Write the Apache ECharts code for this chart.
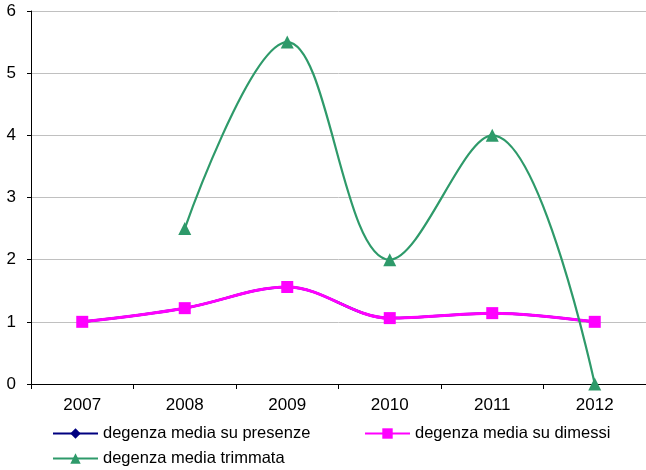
<!DOCTYPE html>
<html><head><meta charset="utf-8">
<script src="https://cdn.jsdelivr.net/npm/echarts@6/dist/echarts.min.js"></script>
<style>html,body{margin:0;padding:0;background:#fff}#c{width:646px;height:470px}</style>
</head><body><div id="c"></div>
<script>
const categories = ['2007','2008','2009','2010','2011','2012'];
const presenze = [1.0, 1.22, 1.56, 1.06, 1.14, 1.0];
const dimessi = [1.0, 1.22, 1.56, 1.06, 1.14, 1.0];
const trimmata = [null, 2.5, 5.5, 2.0, 4.0, 0];
const names = ['degenza media su presenze','degenza media su dimessi','degenza media trimmata'];

const chart = echarts.init(document.getElementById('c'));
const font = 'Liberation Sans, Arial, sans-serif';
const legendBase = {itemWidth: 45, itemHeight: 13, itemGap: 4, padding: 0, textStyle: {fontFamily: font, fontSize: 16.5, color: '#000'}};
chart.setOption({
  animation: false,
  grid: {left: 31, top: 11, width: 619, height: 373, containLabel: false},
  legend: [
    Object.assign({data: [names[0]], left: 52, top: 425}, legendBase),
    Object.assign({data: [names[1]], left: 364, top: 425}, legendBase),
    Object.assign({data: [names[2]], left: 52, top: 450}, legendBase)
  ],
  xAxis: {
    type: 'category', data: categories, boundaryGap: true,
    axisLine: {lineStyle: {color: '#000', width: 1}},
    axisTick: {show: true, length: 5, lineStyle: {color: '#000'}},
    axisLabel: {fontFamily: font, fontSize: 17, color: '#000', margin: 13}
  },
  yAxis: {
    type: 'value', min: 0, max: 6, interval: 1,
    axisLine: {show: true, lineStyle: {color: '#000', width: 1}},
    axisTick: {show: true, length: 4, lineStyle: {color: '#000'}},
    axisLabel: {fontFamily: font, fontSize: 17, color: '#000', margin: 15},
    splitLine: {lineStyle: {color: '#c0c0c0', width: 1}}
  },
  series: [
    {name: names[0], type: 'line', data: presenze, smooth: 0.35, symbol: 'diamond', symbolSize: 9,
     itemStyle: {color: '#000080'}, lineStyle: {color: '#000080', width: 2.5}},
    {name: names[1], type: 'line', data: dimessi, smooth: 0.35, symbol: 'rect', symbolSize: 12,
     itemStyle: {color: '#ff00ff'}, lineStyle: {color: '#ff00ff', width: 3}},
    {name: names[2], type: 'line', data: trimmata, smooth: 0.38, symbol: 'triangle', symbolSize: 13,
     itemStyle: {color: '#2e9a6a'}, lineStyle: {color: '#2e9a6a', width: 2.2}}
  ]
});
</script></body></html>
